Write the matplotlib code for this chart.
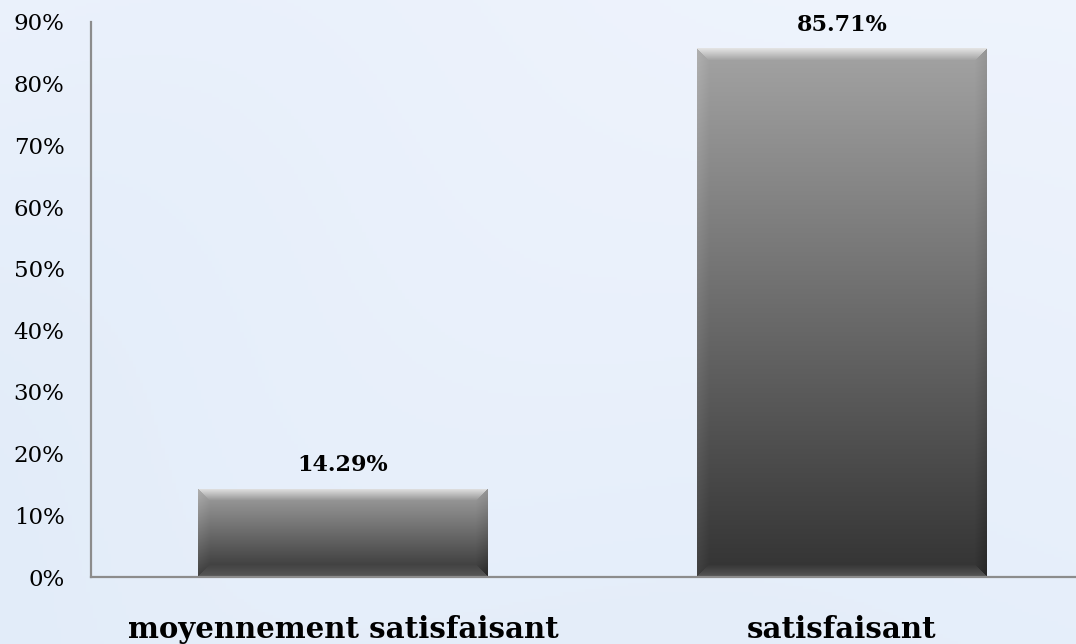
import numpy as np
import matplotlib.pyplot as plt

categories = ['moyennement satisfaisant', 'satisfaisant']
values = [14.29, 85.71]
labels = ['14.29%', '85.71%']
yticks = [0, 10, 20, 30, 40, 50, 60, 70, 80, 90]

SERIF = ['DejaVu Serif']

fig = plt.figure(figsize=(10.76, 6.44), dpi=100)

# pale blue backdrop
bg = fig.add_axes([0, 0, 1, 1], zorder=-10)
gy, gx = np.mgrid[0:1:200j, 0:1:300j]
shade = 0.45 * gy + 0.3 * (1 - gx) * (0.6 + 0.4 * np.sin(gx * 6 + gy * 3))
top_c = np.array([0.935, 0.955, 0.99])
bot_c = np.array([0.86, 0.91, 0.97])
img = top_c[None, None, :] * (1 - shade[..., None]) + bot_c[None, None, :] * shade[..., None]
bg.imshow(np.clip(img, 0, 1), aspect='auto', extent=[0, 1, 0, 1])
bg.axis('off')

ax = fig.add_axes([91 / 1076, 1 - 577 / 644, 1 - 91 / 1076, (577 - 22) / 644])
ax.patch.set_alpha(0)
x = np.arange(len(categories))
bars = ax.bar(x, values, width=0.58, color='none', edgecolor='none', zorder=2)
ax.set_xlim(-0.505, 1.469)
ax.set_ylim(0, 90)

for s in ['top', 'right']:
    ax.spines[s].set_visible(False)
for s in ['left', 'bottom']:
    ax.spines[s].set_color('#8c8c8c')
    ax.spines[s].set_linewidth(1.6)

ax.set_yticks(yticks)
ax.set_yticklabels([f'{t}%' for t in yticks], family=SERIF, fontsize=16.5)
ax.tick_params(axis='y', length=0, pad=19)
ax.set_xticks(x)
ax.set_xticklabels(categories, family=SERIF, fontsize=21, fontweight='bold')
ax.tick_params(axis='x', length=0, pad=27)

fig.canvas.draw()
for b, lab in zip(bars, labels):
    x0, y0 = b.get_x(), b.get_y()
    w, h = b.get_width(), b.get_height()
    p0 = ax.transData.transform((x0, y0))
    p1 = ax.transData.transform((x0 + w, y0 + h))
    W = int(round(p1[0] - p0[0]))
    H = int(round(p1[1] - p0[1]))
    yy, xx = np.mgrid[0:H, 0:W].astype(float)
    t = yy / max(H - 1, 1)
    v = 0.64 - 0.44 * t
    bev = 12.0
    dt, db, dl, dr = yy, H - 1 - yy, xx, W - 1 - xx
    d = np.stack([dt, db, dl, dr])
    near = d.argmin(axis=0)
    dm = d.min(axis=0)
    f = np.clip(1 - dm / bev, 0, 1)
    adj = np.select([near == 0, near == 1, near == 2, near == 3],
                    [0.25, 0.14, 0.05, -0.05], 0)
    v = np.clip(v + adj * f, 0, 1)
    rgb = np.dstack([v, v, v])
    im = ax.imshow(rgb, extent=[x0, x0 + w, y0, y0 + h], aspect='auto',
                   zorder=2, interpolation='bilinear')
    im.set_clip_path(b)
    ax.text(b.get_x() + w / 2, h + 2.1, lab, ha='center', va='bottom',
            family=SERIF, fontsize=16, fontweight='bold')

ax.set_xlim(-0.505, 1.469)
ax.set_ylim(0, 90)
fig.savefig('out.png', dpi=100)
